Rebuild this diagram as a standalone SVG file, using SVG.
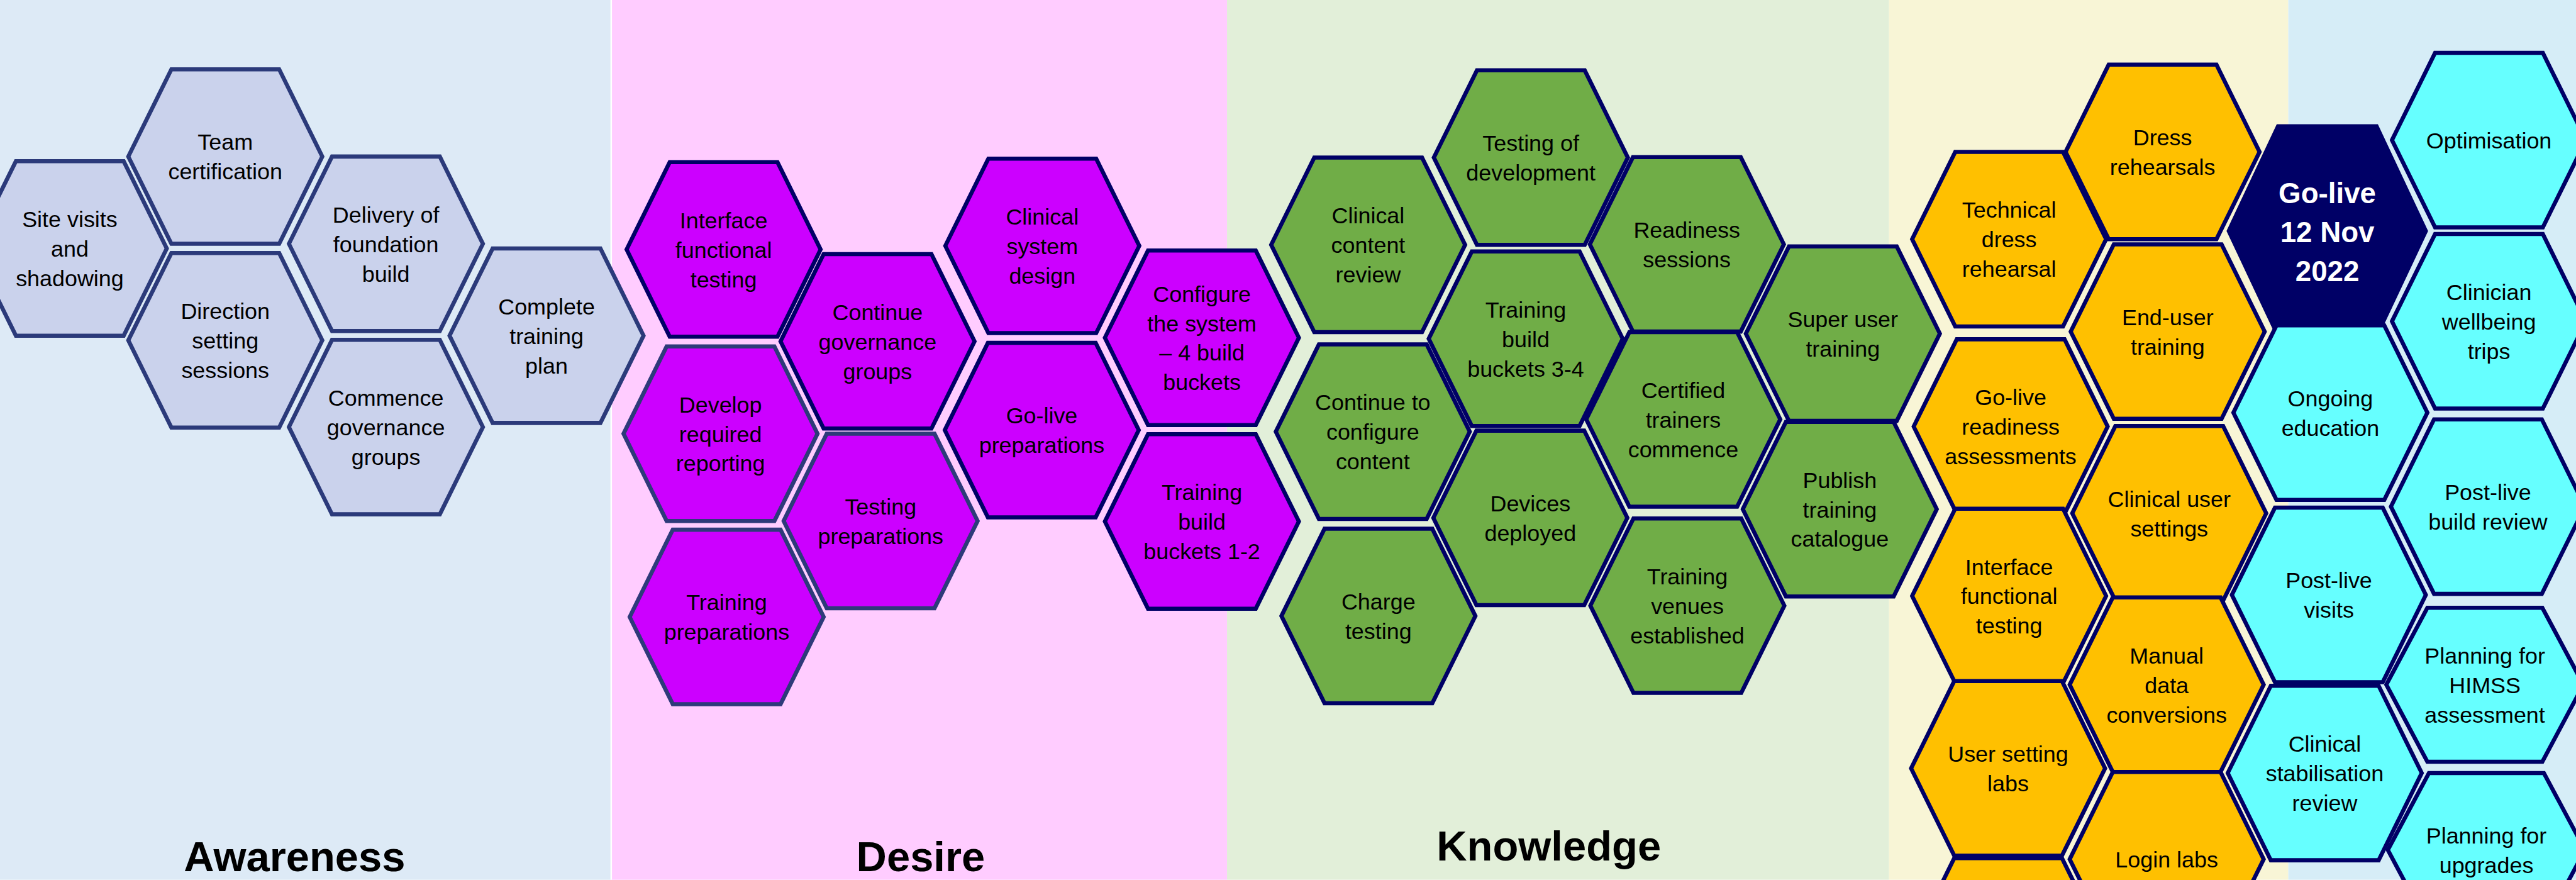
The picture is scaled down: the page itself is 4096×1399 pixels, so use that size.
<svg xmlns="http://www.w3.org/2000/svg" width="4096" height="1399" viewBox="0 0 4096 1399">
<style>
  .hex { stroke-width: 8; stroke-linejoin: miter; }
  .aw { fill: #CAD2EC; stroke: #2B3A7A; }
  .de { fill: #CC00FF; stroke: #000066; }
  .de2 { fill: #CC00FF; stroke: #2E3A7A; }
  .kn { fill: #70AD47; stroke: #000066; }
  .go { fill: #FFC000; stroke: #000066; }
  .cy { fill: #66FFFF; stroke: #000066; }
  .gl { fill: #000066; stroke: #000066; }
  .t { font-family: "Liberation Sans", Arial, sans-serif; font-size: 44px; fill: #000000; text-anchor: middle; }
  .tb { font-family: "Liberation Sans", Arial, sans-serif; font-size: 56px; font-weight: bold; fill: #FFFFFF; text-anchor: middle; }
  .stage { font-family: "Liberation Sans", Arial, sans-serif; font-size: 82px; font-weight: bold; fill: #000000; text-anchor: middle; }
</style>
<defs>
  <polygon id="hx" points="-189,0 -105,-170 105,-170 189,0 105,170 -105,170"/>
  <polygon id="hxBig" points="-192,0 -96,-204 96,-204 192,0 96,204 -96,204"/>
  <polygon id="hxLow" points="-192,0 -112,-150 112,-150 192,0 112,150 -112,150"/>
</defs>
<g transform="scale(0.816)">
  <!-- phase bands -->
  <g id="bands">
    <rect x="0" y="0" width="1191" height="1714" fill="#DDEAF6"/>
    <rect x="1191" y="0" width="1200" height="1714" fill="#FFCCFF"/>
    <rect x="2391" y="0" width="1290" height="1714" fill="#E2EFD9"/>
    <rect x="3681" y="0" width="778" height="1714" fill="#F8F5D6"/>
    <rect x="4459" y="0" width="600" height="1714" fill="#D6EDF7"/>
    <line x1="1191" y1="0" x2="1191" y2="1714" stroke="#FFFFFF" stroke-width="3"/>
  </g>

  <!-- Awareness -->
  <g id="site-visits"><use href="#hx" x="136" y="484" class="hex aw"/>
    <text class="t" x="136" y="442.5"><tspan x="136">Site visits</tspan><tspan x="136" dy="57.5">and</tspan><tspan x="136" dy="57.5">shadowing</tspan></text></g>
  <g id="team-certification"><use href="#hx" x="439" y="305" class="hex aw"/>
    <text class="t" x="439" y="292.25"><tspan x="439">Team</tspan><tspan x="439" dy="57.5">certification</tspan></text></g>
  <g id="direction-setting"><use href="#hx" x="439" y="663" class="hex aw"/>
    <text class="t" x="439" y="621.5"><tspan x="439">Direction</tspan><tspan x="439" dy="57.5">setting</tspan><tspan x="439" dy="57.5">sessions</tspan></text></g>
  <g id="foundation-build"><use href="#hx" x="752" y="475" class="hex aw"/>
    <text class="t" x="752" y="433.5"><tspan x="752">Delivery of</tspan><tspan x="752" dy="57.5">foundation</tspan><tspan x="752" dy="57.5">build</tspan></text></g>
  <g id="commence-governance"><use href="#hx" x="752" y="832" class="hex aw"/>
    <text class="t" x="752" y="790.5"><tspan x="752">Commence</tspan><tspan x="752" dy="57.5">governance</tspan><tspan x="752" dy="57.5">groups</tspan></text></g>
  <g id="training-plan"><use href="#hx" x="1065" y="654" class="hex aw"/>
    <text class="t" x="1065" y="612.5"><tspan x="1065">Complete</tspan><tspan x="1065" dy="57.5">training</tspan><tspan x="1065" dy="57.5">plan</tspan></text></g>

  <!-- Desire -->
  <g id="interface-testing-1"><use href="#hx" x="1410" y="486" class="hex de"/>
    <text class="t" x="1410" y="444.5"><tspan x="1410">Interface</tspan><tspan x="1410" dy="57.5">functional</tspan><tspan x="1410" dy="57.5">testing</tspan></text></g>
  <g id="continue-governance"><use href="#hx" x="1710" y="665" class="hex de"/>
    <text class="t" x="1710" y="623.5"><tspan x="1710">Continue</tspan><tspan x="1710" dy="57.5">governance</tspan><tspan x="1710" dy="57.5">groups</tspan></text></g>
  <g id="develop-reporting"><use href="#hx" x="1404" y="845" class="hex de2"/>
    <text class="t" x="1404" y="803.5"><tspan x="1404">Develop</tspan><tspan x="1404" dy="57.5">required</tspan><tspan x="1404" dy="57.5">reporting</tspan></text></g>
  <g id="testing-preparations"><use href="#hx" x="1716" y="1015" class="hex de2"/>
    <text class="t" x="1716" y="1002.25"><tspan x="1716">Testing</tspan><tspan x="1716" dy="57.5">preparations</tspan></text></g>
  <g id="training-preparations"><use href="#hx" x="1416" y="1202" class="hex de2"/>
    <text class="t" x="1416" y="1189.25"><tspan x="1416">Training</tspan><tspan x="1416" dy="57.5">preparations</tspan></text></g>
  <g id="clinical-system-design"><use href="#hx" x="2031" y="479" class="hex de"/>
    <text class="t" x="2031" y="437.5"><tspan x="2031">Clinical</tspan><tspan x="2031" dy="57.5">system</tspan><tspan x="2031" dy="57.5">design</tspan></text></g>
  <g id="golive-preparations"><use href="#hx" x="2030" y="838" class="hex de"/>
    <text class="t" x="2030" y="825.25"><tspan x="2030">Go-live</tspan><tspan x="2030" dy="57.5">preparations</tspan></text></g>
  <g id="configure-system"><use href="#hx" x="2342" y="658" class="hex de"/>
    <text class="t" x="2342" y="587.75"><tspan x="2342">Configure</tspan><tspan x="2342" dy="57.5">the system</tspan><tspan x="2342" dy="57.5">– 4 build</tspan><tspan x="2342" dy="57.5">buckets</tspan></text></g>
  <g id="training-build-1-2"><use href="#hx" x="2342" y="1016" class="hex de"/>
    <text class="t" x="2342" y="974.5"><tspan x="2342">Training</tspan><tspan x="2342" dy="57.5">build</tspan><tspan x="2342" dy="57.5">buckets 1-2</tspan></text></g>

  <!-- Knowledge -->
  <g id="clinical-content-review"><use href="#hx" x="2666" y="477" class="hex kn"/>
    <text class="t" x="2666" y="435.5"><tspan x="2666">Clinical</tspan><tspan x="2666" dy="57.5">content</tspan><tspan x="2666" dy="57.5">review</tspan></text></g>
  <g id="configure-content"><use href="#hx" x="2675" y="841" class="hex kn"/>
    <text class="t" x="2675" y="799.5"><tspan x="2675">Continue to</tspan><tspan x="2675" dy="57.5">configure</tspan><tspan x="2675" dy="57.5">content</tspan></text></g>
  <g id="charge-testing"><use href="#hx" x="2686" y="1200" class="hex kn"/>
    <text class="t" x="2686" y="1187.25"><tspan x="2686">Charge</tspan><tspan x="2686" dy="57.5">testing</tspan></text></g>
  <g id="testing-development"><use href="#hx" x="2983" y="307" class="hex kn"/>
    <text class="t" x="2983" y="294.25"><tspan x="2983">Testing of</tspan><tspan x="2983" dy="57.5">development</tspan></text></g>
  <g id="training-build-3-4"><use href="#hx" x="2973" y="660" class="hex kn"/>
    <text class="t" x="2973" y="618.5"><tspan x="2973">Training</tspan><tspan x="2973" dy="57.5">build</tspan><tspan x="2973" dy="57.5">buckets 3-4</tspan></text></g>
  <g id="devices-deployed"><use href="#hx" x="2982" y="1009" class="hex kn"/>
    <text class="t" x="2982" y="996.25"><tspan x="2982">Devices</tspan><tspan x="2982" dy="57.5">deployed</tspan></text></g>
  <g id="readiness-sessions"><use href="#hx" x="3287" y="476" class="hex kn"/>
    <text class="t" x="3287" y="463.25"><tspan x="3287">Readiness</tspan><tspan x="3287" dy="57.5">sessions</tspan></text></g>
  <g id="certified-trainers"><use href="#hx" x="3280" y="817" class="hex kn"/>
    <text class="t" x="3280" y="775.5"><tspan x="3280">Certified</tspan><tspan x="3280" dy="57.5">trainers</tspan><tspan x="3280" dy="57.5">commence</tspan></text></g>
  <g id="training-venues"><use href="#hx" x="3288" y="1180" class="hex kn"/>
    <text class="t" x="3288" y="1138.5"><tspan x="3288">Training</tspan><tspan x="3288" dy="57.5">venues</tspan><tspan x="3288" dy="57.5">established</tspan></text></g>
  <g id="super-user-training"><use href="#hx" x="3591" y="650" class="hex kn"/>
    <text class="t" x="3591" y="637.25"><tspan x="3591">Super user</tspan><tspan x="3591" dy="57.5">training</tspan></text></g>
  <g id="training-catalogue"><use href="#hx" x="3585" y="992" class="hex kn"/>
    <text class="t" x="3585" y="950.5"><tspan x="3585">Publish</tspan><tspan x="3585" dy="57.5">training</tspan><tspan x="3585" dy="57.5">catalogue</tspan></text></g>

  <!-- Readiness (gold) -->
  <g id="dress-rehearsals"><use href="#hx" x="4214" y="296" class="hex go"/>
    <text class="t" x="4214" y="283.25"><tspan x="4214">Dress</tspan><tspan x="4214" dy="57.5">rehearsals</tspan></text></g>
  <g id="technical-dress-rehearsal"><use href="#hx" x="3915" y="466" class="hex go"/>
    <text class="t" x="3915" y="424.5"><tspan x="3915">Technical</tspan><tspan x="3915" dy="57.5">dress</tspan><tspan x="3915" dy="57.5">rehearsal</tspan></text></g>
  <g id="end-user-training"><use href="#hx" x="4224" y="646" class="hex go"/>
    <text class="t" x="4224" y="633.25"><tspan x="4224">End-user</tspan><tspan x="4224" dy="57.5">training</tspan></text></g>
  <g id="readiness-assessments"><use href="#hx" x="3918" y="831" class="hex go"/>
    <text class="t" x="3918" y="789.5"><tspan x="3918">Go-live</tspan><tspan x="3918" dy="57.5">readiness</tspan><tspan x="3918" dy="57.5">assessments</tspan></text></g>
  <g id="clinical-user-settings"><use href="#hx" x="4227" y="1000" class="hex go"/>
    <text class="t" x="4227" y="987.25"><tspan x="4227">Clinical user</tspan><tspan x="4227" dy="57.5">settings</tspan></text></g>
  <g id="interface-testing-2"><use href="#hx" x="3915" y="1161" class="hex go"/>
    <text class="t" x="3915" y="1119.5"><tspan x="3915">Interface</tspan><tspan x="3915" dy="57.5">functional</tspan><tspan x="3915" dy="57.5">testing</tspan></text></g>
  <g id="data-conversions"><use href="#hx" x="4222" y="1334" class="hex go"/>
    <text class="t" x="4222" y="1292.5"><tspan x="4222">Manual</tspan><tspan x="4222" dy="57.5">data</tspan><tspan x="4222" dy="57.5">conversions</tspan></text></g>
  <g id="user-setting-labs"><use href="#hx" x="3913" y="1497" class="hex go"/>
    <text class="t" x="3913" y="1484.25"><tspan x="3913">User setting</tspan><tspan x="3913" dy="57.5">labs</tspan></text></g>
  <g id="login-labs"><use href="#hx" x="4222" y="1674" class="hex go"/>
    <text class="t" x="4222" y="1690">Login labs</text></g>
  <g id="gold-lower"><use href="#hx" x="3913" y="1842" class="hex go"/></g>

  <!-- Go-live and after -->
  <g id="go-live"><use href="#hxBig" x="4535" y="450" class="hex gl"/>
    <text class="tb" x="4535" y="396"><tspan x="4535">Go-live</tspan><tspan x="4535" dy="76">12 Nov</tspan><tspan x="4535" dy="76">2022</tspan></text></g>
  <g id="ongoing-education"><use href="#hx" x="4541" y="804" class="hex cy"/>
    <text class="t" x="4541" y="791.25"><tspan x="4541">Ongoing</tspan><tspan x="4541" dy="57.5">education</tspan></text></g>
  <g id="post-live-visits"><use href="#hx" x="4538" y="1159" class="hex cy"/>
    <text class="t" x="4538" y="1146.25"><tspan x="4538">Post-live</tspan><tspan x="4538" dy="57.5">visits</tspan></text></g>
  <g id="stabilisation-review"><use href="#hx" x="4530" y="1506" class="hex cy"/>
    <text class="t" x="4530" y="1464.5"><tspan x="4530">Clinical</tspan><tspan x="4530" dy="57.5">stabilisation</tspan><tspan x="4530" dy="57.5">review</tspan></text></g>
  <g id="optimisation"><use href="#hx" x="4850" y="273" class="hex cy"/>
    <text class="t" x="4850" y="289">Optimisation</text></g>
  <g id="wellbeing-trips"><use href="#hx" x="4850" y="626" class="hex cy"/>
    <text class="t" x="4850" y="584.5"><tspan x="4850">Clinician</tspan><tspan x="4850" dy="57.5">wellbeing</tspan><tspan x="4850" dy="57.5">trips</tspan></text></g>
  <g id="build-review"><use href="#hx" x="4848" y="987" class="hex cy"/>
    <text class="t" x="4848" y="974.25"><tspan x="4848">Post-live</tspan><tspan x="4848" dy="57.5">build review</tspan></text></g>
  <g id="himss-planning"><use href="#hxLow" x="4842" y="1334" class="hex cy"/>
    <text class="t" x="4842" y="1292.5"><tspan x="4842">Planning for</tspan><tspan x="4842" dy="57.5">HIMSS</tspan><tspan x="4842" dy="57.5">assessment</tspan></text></g>
  <g id="upgrade-planning"><use href="#hxLow" x="4845" y="1656" class="hex cy"/>
    <text class="t" x="4845" y="1643.25"><tspan x="4845">Planning for</tspan><tspan x="4845" dy="57.5">upgrades</tspan></text></g>

  <!-- stage titles -->
  <g id="stage-titles">
    <text class="stage" x="574" y="1697">Awareness</text>
    <text class="stage" x="1794" y="1697">Desire</text>
    <text class="stage" x="3018" y="1677">Knowledge</text>
  </g>
</g>
</svg>
